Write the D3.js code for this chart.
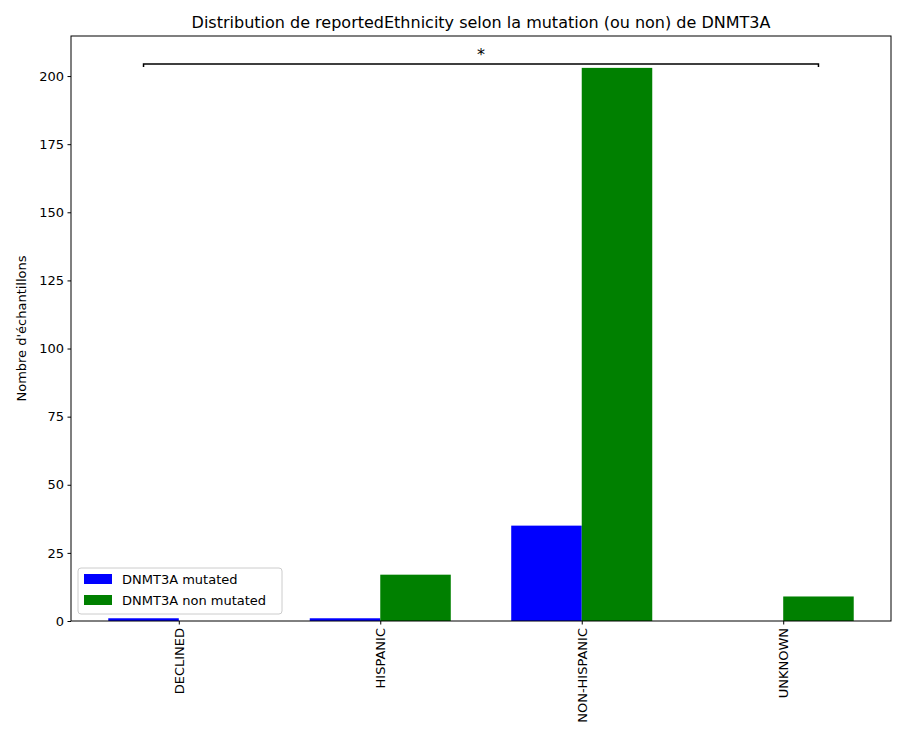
<!DOCTYPE html>
<html><head><meta charset="utf-8">
<script src="https://cdn.jsdelivr.net/npm/d3@7"></script>
<style>body{margin:0;background:#fff}text{font-family:"DejaVu Sans",sans-serif}</style>
</head><body>
<svg width="906" height="746"></svg>
<script>
const categories = ['DECLINED', 'HISPANIC', 'NON-HISPANIC', 'UNKNOWN'];
const mutated = [1, 1, 35, 0];
const nonMutated = [0, 17, 203, 9];
const yTicks = [0, 25, 50, 75, 100, 125, 150, 175, 200];
const seriesNames = ['DNMT3A mutated', 'DNMT3A non mutated'];
const colors = ['blue', 'green'];

const svg = d3.select('svg');
const mLeft = 71, mRight = 891, mTop = 36, mBottom = 621;
const bw = 0.35;

const x = d3.scaleLinear().domain([-0.535, 3.535]).range([mLeft, mRight]);
const y = d3.scaleLinear().domain([0, 214.7]).range([mBottom, mTop]);

const series = [mutated, nonMutated];
series.forEach((vals, s) => {
  svg.append('g').selectAll('rect').data(vals).enter().append('rect')
    .attr('x', (d, i) => x(i + (s === 0 ? -bw : 0)))
    .attr('width', x(bw) - x(0))
    .attr('y', d => y(d))
    .attr('height', d => y(0) - y(d))
    .attr('fill', colors[s]);
});

// axes
const ya = svg.append('g').attr('transform', `translate(${mLeft},0)`)
  .call(d3.axisLeft(y).tickValues(yTicks).tickSize(3.5).tickPadding(3.5));
const xa = svg.append('g').attr('transform', `translate(0,${mBottom})`)
  .call(d3.axisBottom(x).tickValues(d3.range(categories.length)).tickFormat(i => categories[i]).tickSize(3.5));
[ya, xa].forEach(a => {
  a.select('.domain').remove();
  a.selectAll('text').attr('font-size', 13).attr('fill', '#000').style('font-family', 'DejaVu Sans');
  a.selectAll('line').attr('stroke', '#000');
});
xa.selectAll('text').attr('transform', 'rotate(-90)').attr('text-anchor', 'end')
  .attr('x', -7).attr('y', 0).attr('dy', '0.35em');

svg.append('rect').attr('x', mLeft).attr('y', mTop).attr('width', mRight - mLeft).attr('height', mBottom - mTop)
  .attr('fill', 'none').attr('stroke', '#000').attr('stroke-width', 1);

// significance bracket
const by = y(204.4), x1 = x(-bw / 2), x2 = x(3 + bw / 2);
svg.append('path').attr('d', `M${x1},${by + 3}V${by}H${x2}V${by + 3}`)
  .attr('fill', 'none').attr('stroke', '#000').attr('stroke-width', 1.5);
svg.append('text').attr('x', (x1 + x2) / 2).attr('y', by - 4).attr('text-anchor', 'middle')
  .attr('font-size', 16).text('*');

svg.append('text').attr('x', (mLeft + mRight) / 2).attr('y', 28).attr('text-anchor', 'middle')
  .attr('font-size', 16).text('Distribution de reportedEthnicity selon la mutation (ou non) de DNMT3A');
svg.append('text').attr('transform', `translate(26,${(mTop + mBottom) / 2}) rotate(-90)`)
  .attr('text-anchor', 'middle').attr('font-size', 13).text("Nombre d'échantillons");

// legend
const lg = svg.append('g').attr('transform', 'translate(78,568)');
lg.append('rect').attr('width', 204).attr('height', 46).attr('rx', 3)
  .attr('fill', '#fff').attr('fill-opacity', 0.8).attr('stroke', '#ccc');
seriesNames.forEach((n, i) => {
  lg.append('rect').attr('x', 6).attr('y', 6 + i * 21).attr('width', 28).attr('height', 10).attr('fill', colors[i]);
  lg.append('text').attr('x', 44).attr('y', 16 + i * 21).attr('font-size', 13).text(n);
});
</script>
</body></html>
